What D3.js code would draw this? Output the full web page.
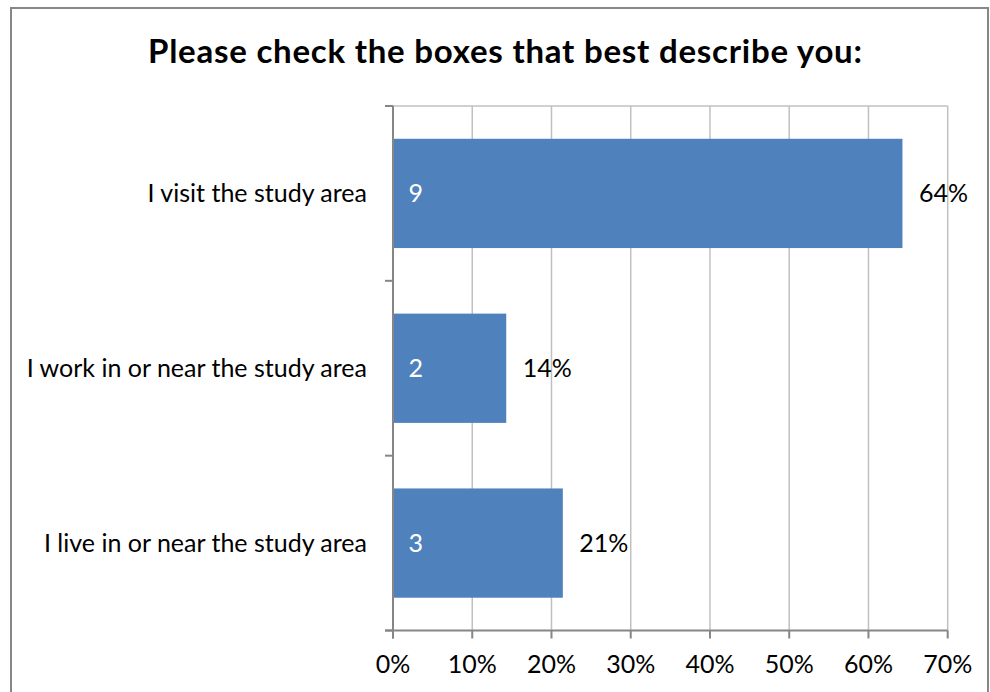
<!DOCTYPE html>
<html><head><meta charset="utf-8">
<script src="https://cdn.jsdelivr.net/npm/d3@7"></script>
<style>body{margin:0;background:#fff}svg{display:block}text{font-family:Lato,"Open Sans",sans-serif}</style>
</head><body>
<script>
const title = "Please check the boxes that best describe you:";
const categories = ["I visit the study area", "I work in or near the study area", "I live in or near the study area"];
const counts = [9, 2, 3];
const percents = [0.6429, 0.1429, 0.2143];
const xTicks = [0, 0.1, 0.2, 0.3, 0.4, 0.5, 0.6, 0.7];

(function () {
const W = 990, H = 692;
const svg = d3.select("body").append("svg").attr("width", W).attr("height", H);
svg.append("rect").attr("x", 11).attr("y", 8).attr("width", 977).attr("height", 700)
  .attr("fill", "#fff").attr("stroke", "#878787").attr("stroke-width", 2);

const pL = 393, pR = 947.7, pT = 106, pB = 630.5;
const x = d3.scaleLinear().domain([0, 0.7]).range([pL, pR]);
const y = d3.scaleBand().domain(categories).range([pT, pB]).paddingInner(0.375).paddingOuter(0.1875);

svg.append("text").attr("x", 505).attr("y", 63).attr("text-anchor", "middle")
  .attr("font-size", 33).attr("font-weight", "bold").attr("fill", "#000")
  .attr("textLength", 714).attr("lengthAdjust", "spacing").text(title);

// gridlines
svg.append("g").selectAll("line").data(xTicks.slice(1)).join("line")
  .attr("x1", d => x(d)).attr("x2", d => x(d)).attr("y1", pT).attr("y2", pB)
  .attr("stroke", "#c0c0c0").attr("stroke-width", 1.5);
svg.append("line").attr("x1", pL - 8).attr("x2", pR).attr("y1", pT).attr("y2", pT)
  .attr("stroke", "#c0c0c0").attr("stroke-width", 1.5);

// bars
const idx = d3.range(categories.length);
svg.append("g").selectAll("rect").data(idx).join("rect")
  .attr("x", x(0)).attr("y", i => y(categories[i]))
  .attr("width", i => x(percents[i]) - x(0)).attr("height", y.bandwidth())
  .attr("fill", "#4f81bd");

svg.append("g").selectAll("text").data(idx).join("text")
  .attr("x", x(0) + 15.5).attr("y", i => y(categories[i]) + y.bandwidth() / 2)
  .attr("dy", "0.35em").attr("font-size", 25).attr("fill", "#fff").text(i => counts[i]);
svg.append("g").selectAll("text").data(idx).join("text")
  .attr("x", i => x(percents[i]) + 16.5).attr("y", i => y(categories[i]) + y.bandwidth() / 2)
  .attr("dy", "0.35em").attr("font-size", 25).attr("fill", "#000").text(i => Math.round(percents[i] * 100) + "%");

// y axis
const yAxis = svg.append("g").attr("transform", `translate(${pL},0)`);
yAxis.append("line").attr("x1", 0).attr("x2", 0).attr("y1", pT).attr("y2", pB + 8)
  .attr("stroke", "#868686").attr("stroke-width", 2);
const bounds = [pT, ...categories.slice(1).map(c => y(c) - y.step() * y.paddingInner() / 2), pB];
yAxis.selectAll("line.t").data(bounds).join("line").attr("class", "t")
  .attr("x1", -8).attr("x2", 0).attr("y1", d => d).attr("y2", d => d)
  .attr("stroke", "#868686").attr("stroke-width", 2);
yAxis.selectAll("text").data(categories).join("text")
  .attr("x", -26).attr("y", d => y(d) + y.bandwidth() / 2).attr("dy", "0.35em")
  .attr("text-anchor", "end").attr("font-size", 25).attr("fill", "#000").text(d => d);

// x axis
const xAxis = svg.append("g");
xAxis.append("line").attr("x1", pL - 8).attr("x2", pR).attr("y1", pB).attr("y2", pB)
  .attr("stroke", "#868686").attr("stroke-width", 2);
xAxis.selectAll("line.t").data(xTicks).join("line").attr("class", "t")
  .attr("x1", d => x(d)).attr("x2", d => x(d)).attr("y1", pB).attr("y2", pB + 8)
  .attr("stroke", "#868686").attr("stroke-width", 2);
xAxis.selectAll("text").data(xTicks).join("text")
  .attr("x", d => x(d)).attr("y", 673).attr("text-anchor", "middle")
  .attr("font-size", 25).attr("fill", "#000").text(d => d3.format(".0%")(d));
})();
</script>
</body></html>
